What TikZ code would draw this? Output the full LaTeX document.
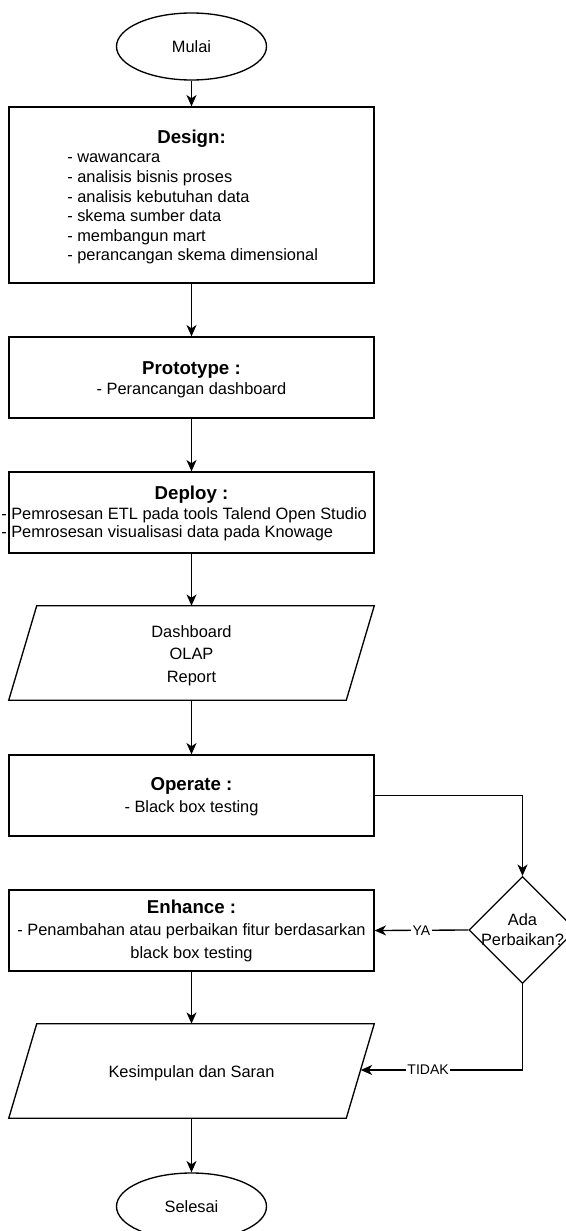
\documentclass[tikz,border=0pt]{standalone}
\usepackage{fontspec}
\setmainfont{Liberation Sans}
\usetikzlibrary{shapes.geometric,arrows.meta}
\newcommand\myBody{\fontsize{12.3pt}{14.6pt}\selectfont}
\newcommand\myTitle{\fontsize{14pt}{16.8pt}\selectfont\bfseries}
\newcommand\myLbl{\fontsize{10.5pt}{12pt}\selectfont}
\def\px{0.75pt}
\begin{document}
\begin{tikzpicture}[x=0.75pt,y=-0.75pt,
  every node/.style={font=\myBody, text=black},
  flowbox/.style={draw=black, line width=1pt, rectangle, inner sep=0pt, minimum width=365*\px, minimum height=81*\px},
  term/.style={draw=black, line width=1pt, ellipse, inner sep=0pt, minimum width=150*\px, minimum height=67*\px},
  ghost/.style={rectangle, inner sep=0pt, minimum width=365*\px, minimum height=94*\px},
  decision/.style={draw=black, line width=1pt, diamond, inner sep=0pt, minimum width=107*\px, minimum height=107*\px},
  txt/.style={inner sep=0pt, anchor=base},
  ltxt/.style={inner sep=0pt, anchor=base west},
  ttl/.style={inner sep=0pt, anchor=base, font=\myTitle},
  flow/.style={line width=1pt, draw=black, -{Stealth[length=8.5pt,width=7.5pt,inset=2.5pt]}},
  lbl/.style={fill=white, inner sep=1pt, font=\myLbl},
  para/.style={draw=black, line width=1pt, line join=miter}
]
\useasboundingbox (0,0) rectangle (566,1231);
\clip (0,0) rectangle (566,1231);
\fill[white] (0,0) rectangle (566,1231);

% nodes
\node[term] (mulai) at (191.5,46.5) {Mulai};
\node[flowbox, minimum height=176*\px] (design) at (191.5,195) {};
\node[flowbox] (proto) at (191.5,377.5) {};
\node[flowbox] (deploy) at (191.5,512.5) {};
\node[ghost] (p1) at (191.5,653) {};
\node[flowbox] (op) at (191.5,795.5) {};
\node[flowbox] (enh) at (191.5,930.5) {};
\node[decision] (dia) at (522.5,930) {};
\node[ghost] (p2) at (191.5,1071) {};
\node[term] (selesai) at (191.5,1206.5) {Selesai};

% parallelograms
\draw[para] ([xshift=28*\px]p1.north west) -- (p1.north east) -- ([xshift=-28*\px]p1.south east) -- (p1.south west) -- cycle;
\draw[para] ([xshift=28*\px]p2.north west) -- (p2.north east) -- ([xshift=-28*\px]p2.south east) -- (p2.south west) -- cycle;

% texts
\node[ttl] (dt) at (191.5,143.2) {Design:};
\foreach \t [count=\i] in {- wawancara, - analisis bisnis proses, - analisis kebutuhan data, - skema sumber data, - membangun mart, - perancangan skema dimensional}
  \node[ltxt] (dl\i) at (67,{162.8+19.6*(\i-1)}) {\t};

\node[ttl] (pt) at (191.5,374.8) {Prototype :};
\node[txt] (pl) at (191.5,394) {- Perancangan dashboard};

\node[ttl] (dpt) at (191.5,499.2) {Deploy :};
\node[ltxt] (dp1) at (1,519) {- Pemrosesan ETL pada tools Talend Open Studio};
\node[ltxt] (dp2) at (1,537.7) {- Pemrosesan visualisasi data pada Knowage};

\node[txt] (o1) at (191.5,637.4) {Dashboard};
\node[txt] (o2) at (191.5,659.7) {OLAP};
\node[txt] (o3) at (191.5,682.4) {Report};

\node[ttl] (opt) at (191.5,790.5) {Operate :};
\node[txt] (opl) at (191.5,812.7) {- Black box testing};

\node[ttl] (et) at (191.5,913.2) {Enhance :};
\node[txt] (el1) at (191.5,935.3) {- Penambahan atau perbaikan fitur berdasarkan};
\node[txt] (el2) at (191.5,958.3) {black box testing};

\node[txt] (da1) at (522.5,925.7) {Ada};
\node[txt] (da2) at (522.5,945.5) {Perbaikan?};

\node[txt] (ks) at (191.5,1077.5) {Kesimpulan dan Saran};

% connectors
\coordinate (kR) at (360.8,1070);
\draw[flow] (mulai.south) -- (design.north);
\draw[flow] (design.south) -- (proto.north);
\draw[flow] (proto.south) -- (deploy.north);
\draw[flow] (deploy.south) -- (p1.north);
\draw[flow] (p1.south) -- (op.north);
\draw[flow] (op.east) -| (dia.north);
\draw[flow] (dia.west) -- node[lbl]{YA} (enh.east);
\draw[flow] (enh.south) -- (p2.north);
\draw[flow] (dia.south) |- node[lbl,pos=0.792]{TIDAK} (kR);
\draw[flow] (p2.south) -- (selesai.north);
\end{tikzpicture}
\end{document}
